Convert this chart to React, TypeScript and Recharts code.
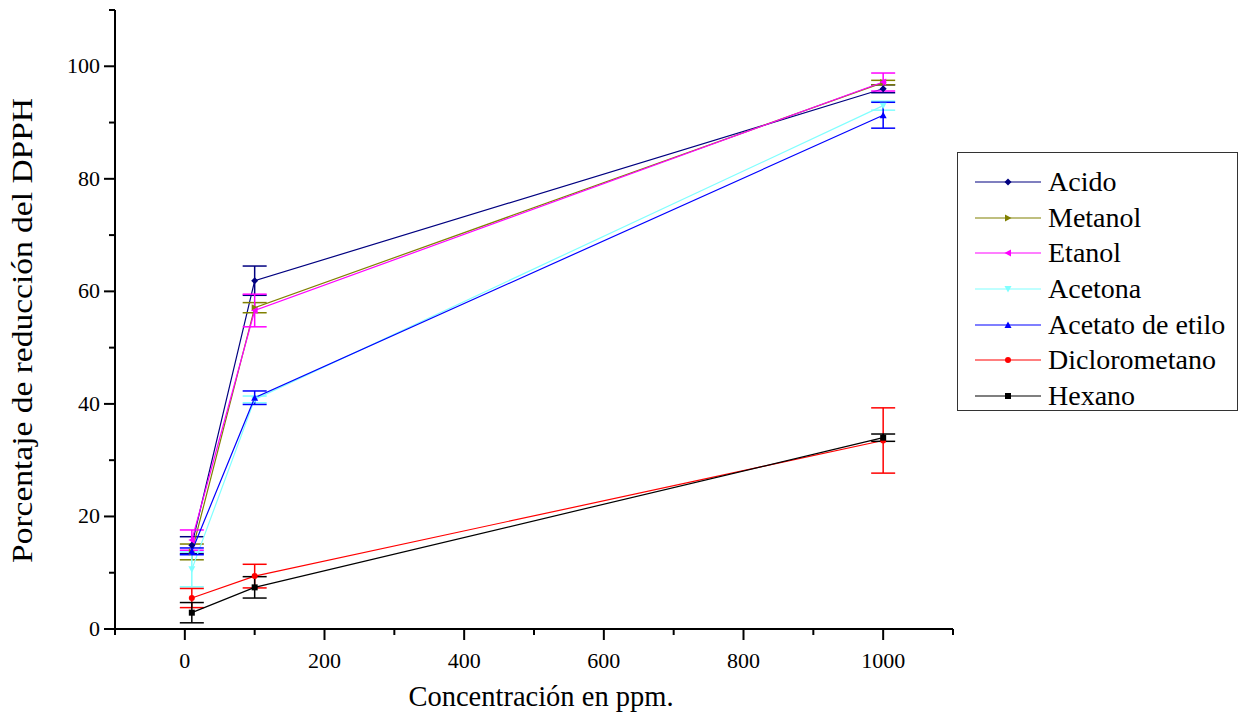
import { ErrorBar, Legend, Line, LineChart, XAxis, YAxis } from "recharts";

// concentración (ppm)
const concentrations = [10, 100, 1000];

const acido = [14.9, 61.9, 96.0];
const acidoErr = [1.5, 2.6, 0.7];
const metanol = [13.7, 57.1, 97.1];
const metanolErr = [1.4, 0.9, 0.4];
const etanol = [15.8, 56.6, 97.2];
const etanolErr = [1.8, 2.9, 1.6];
const acetona = [10.6, 40.8, 93.0];
const acetonaErr = [3.1, 0.6, 0.8];
const acetato = [13.8, 41.1, 91.3];
const acetatoErr = [0.6, 1.2, 2.3];
const dicloro = [5.5, 9.4, 33.5];
const diclororErr = [1.7, 2.1, 5.8];
const hexano = [2.9, 7.4, 34.0];
const hexanoErr = [1.8, 1.9, 0.65];

const xTicks = [-100, 0, 100, 200, 300, 400, 500, 600, 700, 800, 900, 1000, 1100];
const yTicks = [0, 10, 20, 30, 40, 50, 60, 70, 80, 90, 100, 110];

const FONT = '"Liberation Serif", "Times New Roman", serif';

type Shape = "diamond" | "right" | "left" | "down" | "up" | "circle" | "square";

const series: { key: string; name: string; color: string; shape: Shape; values: number[]; errors: number[] }[] = [
  { key: "acido", name: "Acido", color: "#000080", shape: "diamond", values: acido, errors: acidoErr },
  { key: "metanol", name: "Metanol", color: "#808000", shape: "right", values: metanol, errors: metanolErr },
  { key: "etanol", name: "Etanol", color: "#ff00ff", shape: "left", values: etanol, errors: etanolErr },
  { key: "acetona", name: "Acetona", color: "#80ffff", shape: "down", values: acetona, errors: acetonaErr },
  { key: "acetato", name: "Acetato de etilo", color: "#0000ff", shape: "up", values: acetato, errors: acetatoErr },
  { key: "dicloro", name: "Diclorometano", color: "#ff0000", shape: "circle", values: dicloro, errors: diclororErr },
  { key: "hexano", name: "Hexano", color: "#000000", shape: "square", values: hexano, errors: hexanoErr },
];

const data = concentrations.map((x, i) => {
  const row: Record<string, number> = { x };
  series.forEach((s) => {
    row[s.key] = s.values[i];
    row[s.key + "Err"] = s.errors[i];
  });
  return row;
});

function Marker({ cx, cy, shape, color }: { cx: number; cy: number; shape: Shape; color: string }) {
  const s = 3.5;
  switch (shape) {
    case "diamond":
      return <polygon points={`${cx},${cy - s} ${cx + s},${cy} ${cx},${cy + s} ${cx - s},${cy}`} fill={color} />;
    case "right":
      return <polygon points={`${cx - 3},${cy - s} ${cx + s},${cy} ${cx - 3},${cy + s}`} fill={color} />;
    case "left":
      return <polygon points={`${cx + 3},${cy - s} ${cx - s},${cy} ${cx + 3},${cy + s}`} fill={color} />;
    case "down":
      return <polygon points={`${cx - s},${cy - 3} ${cx + s},${cy - 3} ${cx},${cy + s}`} fill={color} />;
    case "up":
      return <polygon points={`${cx - s},${cy + 3} ${cx + s},${cy + 3} ${cx},${cy - s}`} fill={color} />;
    case "circle":
      return <circle cx={cx} cy={cy} r={3} fill={color} />;
    default:
      return <rect x={cx - 3} y={cy - 3} width={6} height={6} fill={color} />;
  }
}

function XTick(props: any) {
  const { x, y, payload } = props;
  const major = payload.value % 200 === 0;
  return (
    <g>
      <line x1={x} y1={y} x2={x} y2={y + (major ? 11 : 6)} stroke="#000" strokeWidth={2} />
      {major && (
        <text x={x} y={y + 39} textAnchor="middle" fontSize={22} fontFamily={FONT} fill="#000">
          {payload.value}
        </text>
      )}
    </g>
  );
}

function YTick(props: any) {
  const { x, y, payload } = props;
  const major = payload.value % 20 === 0;
  return (
    <g>
      <line x1={x - (major ? 11 : 6)} y1={y} x2={x} y2={y} stroke="#000" strokeWidth={2} />
      {major && (
        <text x={x - 15} y={y + 7} textAnchor="end" fontSize={22} fontFamily={FONT} fill="#000">
          {payload.value}
        </text>
      )}
    </g>
  );
}

function LegendBox() {
  return (
    <div
      style={{
        border: "1px solid #333",
        background: "#fff",
        width: 281,
        height: 259,
        boxSizing: "border-box",
        paddingTop: 11,
        fontFamily: FONT,
        fontSize: 28,
      }}
    >
      {series.map((s) => (
        <div key={s.key} style={{ display: "flex", alignItems: "center", height: 35.7, lineHeight: "35.7px" }}>
          <svg width={90} height={20} style={{ flex: "none" }}>
            <line x1={17} y1={10} x2={83} y2={10} stroke={s.color} strokeWidth={1.2} />
            <Marker cx={50} cy={10} shape={s.shape} color={s.color} />
          </svg>
          <span style={{ color: "#000", whiteSpace: "nowrap" }}>{s.name}</span>
        </div>
      ))}
    </div>
  );
}

export default function App() {
  return (
    <div style={{ position: "absolute", left: 0, top: 0, background: "#fff" }}>
      <LineChart width={1246} height={719} data={data} margin={{ top: 10, right: 293, bottom: 30, left: 55 }}>
        <XAxis
          dataKey="x"
          type="number"
          domain={[-100, 1100]}
          ticks={xTicks}
          interval={0}
          height={60}
          tickSize={0}
          tickMargin={0}
          tick={<XTick />}
          axisLine={{ stroke: "#000", strokeWidth: 2 }}
          allowDataOverflow
          label={{
            value: "Concentración en ppm.",
            content: ({ viewBox }: any) => (
              <text
                x={viewBox.x + viewBox.width / 2 + 7}
                y={viewBox.y + 77}
                textAnchor="middle"
                fontSize={28.5}
                fontFamily={FONT}
                fill="#000"
              >
                Concentración en ppm.
              </text>
            ),
          }}
        />
        <YAxis
          type="number"
          domain={[0, 110]}
          ticks={yTicks}
          interval={0}
          width={60}
          tickSize={0}
          tickMargin={0}
          tick={<YTick />}
          axisLine={{ stroke: "#000", strokeWidth: 2 }}
          allowDataOverflow
          label={{
            value: "Porcentaje de reducción del DPPH",
            content: ({ viewBox }: any) => {
              const cx = viewBox.x + viewBox.width - 93;
              const cy = viewBox.y + viewBox.height / 2 + 11;
              return (
                <text
                  x={cx}
                  y={cy}
                  transform={`rotate(-90 ${cx} ${cy})`}
                  textAnchor="middle"
                  dominantBaseline="central"
                  fontSize={29}
                  textLength={465}
                  lengthAdjust="spacingAndGlyphs"
                  fontFamily={FONT}
                  fill="#000"
                >
                  Porcentaje de reducción del DPPH
                </text>
              );
            },
          }}
        />
        <Legend
          layout="horizontal"
          verticalAlign="middle"
          align="center"
          wrapperStyle={{ left: 957, top: 152, width: 281, height: 259 }}
          content={() => <LegendBox />}
        />
        {series.map((s) => (
          <Line
            key={s.key}
            dataKey={s.key}
            name={s.name}
            type="linear"
            stroke={s.color}
            strokeWidth={1.2}
            isAnimationActive={false}
            dot={(p: any) => (
              <g key={`${s.key}-${p.index}`}>
                <Marker cx={p.cx} cy={p.cy} shape={s.shape} color={s.color} />
              </g>
            )}
            activeDot={false}
          >
            <ErrorBar
              dataKey={s.key + "Err"}
              direction="y"
              width={12}
              stroke={s.color}
              strokeWidth={1.5}
              isAnimationActive={false}
            />
          </Line>
        ))}
      </LineChart>
    </div>
  );
}
